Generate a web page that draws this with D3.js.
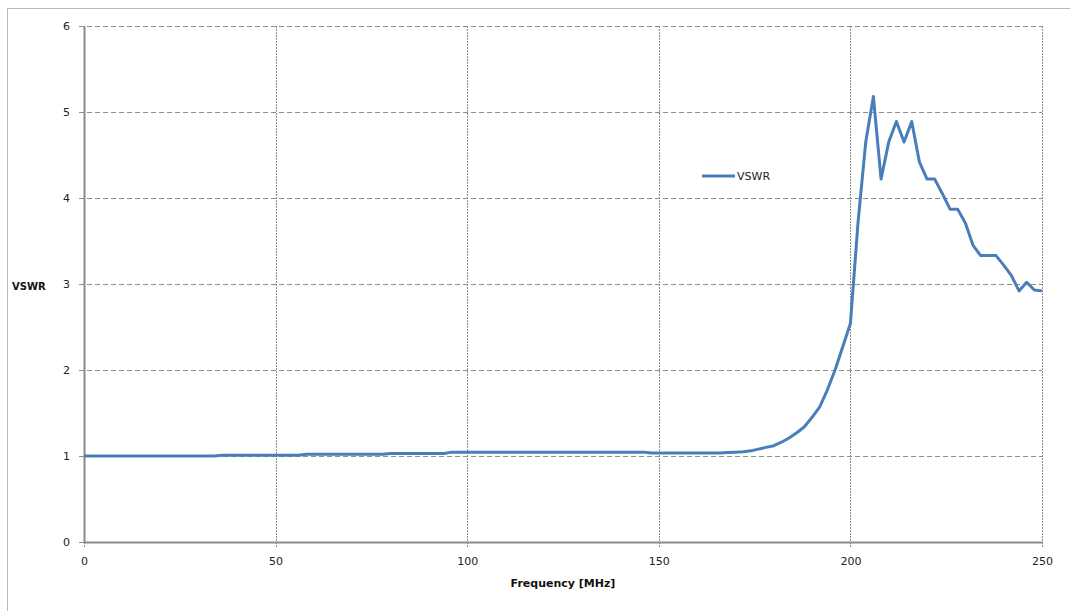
<!DOCTYPE html>
<html>
<head>
<meta charset="utf-8">
<script src="https://cdn.jsdelivr.net/npm/d3@7"></script>
<style>
  body { margin: 0; background: #fff; }
  svg { display: block; }
</style>
</head>
<body>
<svg id="chart" width="1070" height="611"></svg>
<script>
const frequency = [
  0,2,4,6,8,10,12,14,16,18,20,22,24,26,28,30,32,34,
  36,38,40,42,44,46,48,50,52,54,56,
  58,60,62,64,66,68,70,72,74,76,78,
  80,82,84,86,88,90,92,94,
  96,98,100,102,104,106,108,110,112,114,116,118,120,122,124,126,128,130,132,134,136,138,140,142,144,146,
  148,150,152,154,156,158,160,162,164,166,
  168,170,172,174,176,178,180,182,184,186,188,190,192,194,196,198,200,
  202,204,206,208,210,212,214,216,218,220,222,224,226,228,230,232,234,236,238,240,242,244,246,248,250
];
const vswr = [
  1.00,1.00,1.00,1.00,1.00,1.00,1.00,1.00,1.00,1.00,1.00,1.00,1.00,1.00,1.00,1.00,1.00,1.00,
  1.01,1.01,1.01,1.01,1.01,1.01,1.01,1.01,1.01,1.01,1.01,
  1.02,1.02,1.02,1.02,1.02,1.02,1.02,1.02,1.02,1.02,1.02,
  1.03,1.03,1.03,1.03,1.03,1.03,1.03,1.03,
  1.045,1.045,1.045,1.045,1.045,1.045,1.045,1.045,1.045,1.045,1.045,1.045,1.045,1.045,1.045,1.045,1.045,1.045,1.045,1.045,1.045,1.045,1.045,1.045,1.045,1.045,
  1.035,1.035,1.035,1.035,1.035,1.035,1.035,1.035,1.035,1.035,
  1.04,1.045,1.05,1.06,1.08,1.10,1.12,1.16,1.21,1.27,1.34,1.45,1.57,1.77,2.00,2.27,2.54,
  3.72,4.65,5.18,4.22,4.65,4.89,4.65,4.89,4.42,4.22,4.22,4.05,3.87,3.87,3.71,3.45,3.33,3.33,3.33,3.22,3.10,2.92,3.02,2.93,2.92
];
const xTicks = [0, 50, 100, 150, 200, 250];
const yTicks = [0, 1, 2, 3, 4, 5, 6];
const seriesName = "VSWR";
const xTitle = "Frequency [MHz]";
const yTitle = "VSWR";

(function () {
const svg = d3.select("#chart");
const font = "'DejaVu Sans', Verdana, sans-serif";

// outer chart border
svg.append("rect")
  .attr("x", 7.5).attr("y", 8.5)
  .attr("width", 1080).attr("height", 620)
  .attr("fill", "none").attr("stroke", "#b8b8b8").attr("stroke-width", 1);

const pLeft = 84, pRight = 1042, pTop = 26, pBottom = 542;
const x = d3.scaleLinear().domain([0, 250]).range([pLeft, pRight]);
const y = d3.scaleLinear().domain([0, 6]).range([pBottom, pTop]);

// horizontal gridlines (dashed), including tick marks outward
svg.append("g").selectAll("line").data(yTicks).join("line")
  .attr("x1", pLeft - 5).attr("x2", pRight)
  .attr("y1", d => Math.round(y(d)) + 0.5).attr("y2", d => Math.round(y(d)) + 0.5)
  .attr("stroke", "#8c8c8c").attr("stroke-width", 1)
  .attr("stroke-dasharray", "5,3");

// vertical gridlines (dotted)
svg.append("g").selectAll("line").data(xTicks).join("line")
  .attr("x1", d => Math.round(x(d)) + 0.5).attr("x2", d => Math.round(x(d)) + 0.5)
  .attr("y1", pTop).attr("y2", pBottom + 5)
  .attr("stroke", "#8c8c8c").attr("stroke-width", 1)
  .attr("stroke-dasharray", "2,1");

// axes
const yAxis = d3.axisLeft(y).tickValues(yTicks).tickSize(0).tickPadding(14).tickFormat(d3.format("d"));
const xAxis = d3.axisBottom(x).tickValues(xTicks).tickSize(0).tickPadding(15).tickFormat(d3.format("d"));

const gy = svg.append("g").attr("transform", `translate(${pLeft},0)`).call(yAxis);
const gx = svg.append("g").attr("transform", `translate(0,${pBottom})`).call(xAxis);
[gx, gy].forEach(g => {
  g.select(".domain").attr("stroke", "#8a8a8a").attr("stroke-width", 2);
  g.selectAll("text").attr("font-family", font).attr("font-size", "11px").attr("fill", "#222");
});

// line
const line = d3.line()
  .x((d, i) => x(frequency[i]))
  .y(d => y(d));
svg.append("path")
  .datum(vswr)
  .attr("d", line)
  .attr("fill", "none")
  .attr("stroke", "#4a7ebb")
  .attr("stroke-width", 3)
  .attr("stroke-linejoin", "round");

// axis titles
svg.append("text")
  .attr("x", (pLeft + pRight) / 2).attr("y", 587)
  .attr("text-anchor", "middle")
  .attr("font-family", font).attr("font-size", "11px").attr("font-weight", "bold")
  .attr("fill", "#111")
  .text(xTitle);
svg.append("text")
  .attr("x", 12).attr("y", 290)
  .attr("font-family", font).attr("font-size", "10px").attr("font-weight", "bold")
  .attr("fill", "#111")
  .text(yTitle);

// legend
const lg = svg.append("g");
lg.append("line")
  .attr("x1", 702).attr("x2", 735).attr("y1", 176).attr("y2", 176)
  .attr("stroke", "#4a7ebb").attr("stroke-width", 3);
lg.append("text")
  .attr("x", 737).attr("y", 180)
  .attr("font-family", font).attr("font-size", "11px").attr("fill", "#222")
  .text(seriesName);
})();
</script>
</body>
</html>
